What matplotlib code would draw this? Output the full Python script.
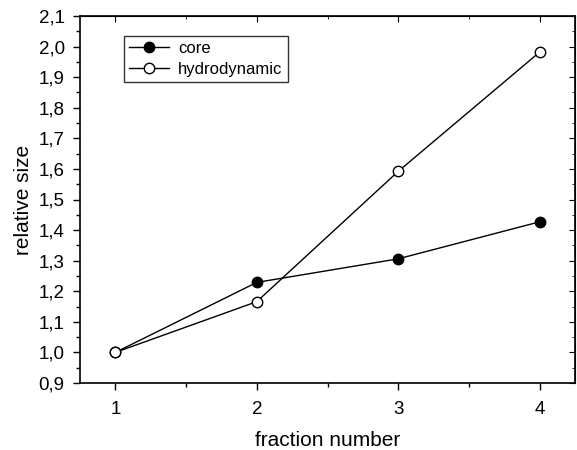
import matplotlib
matplotlib.use("Agg")
import matplotlib.pyplot as plt
from matplotlib.ticker import MultipleLocator, FuncFormatter

plt.rcParams['font.family'] = ['Liberation Sans', 'DejaVu Sans']

fraction = [1, 2, 3, 4]
core = [1.0, 1.229, 1.306, 1.427]
hydrodynamic = [1.0, 1.166, 1.592, 1.982]

fig = plt.figure(figsize=(5.77, 4.5), dpi=100)
ax = fig.add_axes([80/577, 1-383/450, 495/577, 367/450])

ax.plot(fraction, core, '-o', color='black', lw=1, ms=7.5, mfc='black', mec='black', label='core')
ax.plot(fraction, hydrodynamic, '-o', color='black', lw=1, ms=7.5, mfc='white', mec='black', mew=1, label='hydrodynamic')

ax.set_xlim(0.75, 4.25)
ax.set_ylim(0.9, 2.1)
ax.xaxis.set_major_locator(MultipleLocator(1))
ax.xaxis.set_minor_locator(MultipleLocator(0.5))
ax.yaxis.set_major_locator(MultipleLocator(0.1))
ax.yaxis.set_minor_locator(MultipleLocator(0.05))
ax.yaxis.set_major_formatter(FuncFormatter(lambda v, p: f"{v:.1f}".replace('.', ',')))

ax.tick_params(which='both', direction='out', top=False, right=False, labelsize=13.5, width=1)
ax.tick_params(which='major', length=5)
ax.tick_params(which='minor', length=3)
ax.tick_params(axis='x', which='major', pad=8)
ax.tick_params(axis='y', which='major', pad=6)
axt = ax.secondary_xaxis('top')
axt.xaxis.set_major_locator(MultipleLocator(1))
axt.xaxis.set_minor_locator(MultipleLocator(0.5))
axt.tick_params(which='both', direction='in', labeltop=False)
axt.tick_params(which='major', length=4)
axt.tick_params(which='minor', length=2.5)
axr = ax.secondary_yaxis('right')
axr.yaxis.set_major_locator(MultipleLocator(0.1))
axr.yaxis.set_minor_locator(MultipleLocator(0.05))
axr.tick_params(which='both', direction='in', labelright=False)
axr.tick_params(which='major', length=4)
axr.tick_params(which='minor', length=2.5)

for s in ax.spines.values():
    s.set_linewidth(1.2)

ax.set_xlabel('fraction number', fontsize=15, labelpad=9)
ax.set_ylabel('relative size', fontsize=15, labelpad=4)

leg = ax.legend(loc='upper left', bbox_to_anchor=(124/577, 1-36/450), bbox_transform=fig.transFigure,
                frameon=True, fancybox=False, borderaxespad=0,
                edgecolor='black', fontsize=12, handlelength=2.4, borderpad=0.3,
                labelspacing=0.35, handletextpad=0.55)
leg.get_frame().set_linewidth(1)

fig.savefig('out.png', dpi=100)
